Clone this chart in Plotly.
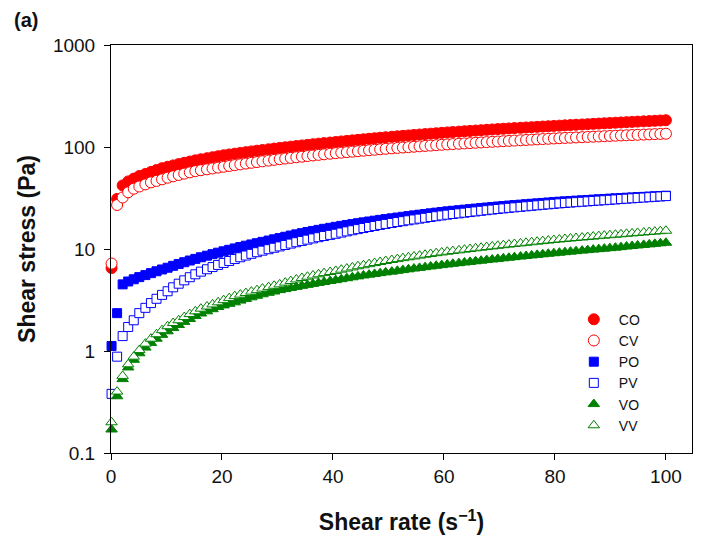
import plotly.graph_objects as go

shear_rate = [0.1, 1.1, 2.1, 3.1, 4.1, 5.1, 6.2, 7.2, 8.2, 9.2,
              10.2, 11.2, 12.2, 13.2, 14.2, 15.2, 16.2, 17.3, 18.3, 19.3,
              20.3, 21.3, 22.3, 23.3, 24.3, 25.3, 26.3, 27.3, 28.4, 29.4,
              30.4, 31.4, 32.4, 33.4, 34.4, 35.4, 36.4, 37.4, 38.4, 39.5,
              40.5, 41.5, 42.5, 43.5, 44.5, 45.5, 46.5, 47.5, 48.5, 49.5,
              50.6, 51.6, 52.6, 53.6, 54.6, 55.6, 56.6, 57.6, 58.6, 59.6,
              60.6, 61.6, 62.7, 63.7, 64.7, 65.7, 66.7, 67.7, 68.7, 69.7,
              70.7, 71.7, 72.7, 73.8, 74.8, 75.8, 76.8, 77.8, 78.8, 79.8,
              80.8, 81.8, 82.8, 83.8, 84.9, 85.9, 86.9, 87.9, 88.9, 89.9,
              90.9, 91.9, 92.9, 93.9, 94.9, 96.0, 97.0, 98.0, 99.0, 100.0]

CO = [6.5, 31, 42, 46, 49, 52, 54.5, 57, 59.5, 62,
      64, 66, 68, 70, 72, 74, 75.8, 77.6, 79.4, 81.2,
      83, 84.5, 86, 87.5, 89, 90.5, 92, 93.5, 95, 96.5,
      98, 99.4, 100.8, 102.2, 103.6, 105, 106.4, 107.8, 109.2, 110.6,
      112, 113.4, 114.8, 116.2, 117.6, 119, 120.4, 121.8, 123.2, 124.6,
      126, 127.3, 128.6, 129.9, 131.2, 132.5, 133.8, 135.1, 136.4, 137.7,
      139, 140.2, 141.4, 142.6, 143.8, 145, 146.2, 147.4, 148.6, 149.8,
      151, 152.1, 153.2, 154.3, 155.4, 156.5, 157.6, 158.7, 159.8, 160.9,
      162, 163.1, 164.2, 165.3, 166.4, 167.5, 168.6, 169.7, 170.8, 171.9,
      173, 174.1, 175.2, 176.3, 177.4, 178.5, 179.6, 180.7, 181.8, 183]

CV = [7.2, 27, 32, 36, 39, 41, 43, 45, 46.5, 48.2,
      50, 51.6, 53.2, 54.8, 56.4, 58, 59.2, 60.4, 61.6, 62.8,
      64, 65.2, 66.4, 67.6, 68.8, 70, 71.2, 72.4, 73.6, 74.8,
      76, 77.1, 78.2, 79.3, 80.4, 81.5, 82.6, 83.7, 84.8, 85.9,
      87, 88, 89, 90, 91, 92, 93, 94, 95, 96,
      97, 97.9, 98.8, 99.7, 100.6, 101.5, 102.4, 103.3, 104.2, 105.1,
      106, 106.8, 107.6, 108.4, 109.2, 110, 110.8, 111.6, 112.4, 113.2,
      114, 114.8, 115.6, 116.4, 117.2, 118, 118.8, 119.6, 120.4, 121.2,
      122, 122.7, 123.4, 124.1, 124.8, 125.5, 126.2, 126.9, 127.6, 128.3,
      129, 129.7, 130.3, 131, 131.7, 132.3, 133, 133.7, 134.3, 135]

PO = [1.12, 2.35, 4.5, 4.8, 5.05, 5.3, 5.55, 5.8, 6.05, 6.3,
      6.55, 6.84, 7.13, 7.42, 7.71, 8.0, 8.3, 8.6, 8.9, 9.2,
      9.5, 9.82, 10.13, 10.45, 10.77, 11.08, 11.4, 11.75, 12.1, 12.45,
      12.8, 13.18, 13.55, 13.93, 14.3, 14.67, 15.03, 15.4, 15.77, 16.13,
      16.5, 16.85, 17.2, 17.55, 17.9, 18.25, 18.6, 18.95, 19.3, 19.65,
      20.0, 20.34, 20.68, 21.02, 21.36, 21.7, 22.04, 22.38, 22.72, 23.06,
      23.4, 23.7, 24.0, 24.3, 24.6, 24.9, 25.2, 25.5, 25.8, 26.1,
      26.4, 26.67, 26.94, 27.21, 27.48, 27.75, 28.02, 28.29, 28.56, 28.83,
      29.1, 29.33, 29.56, 29.79, 30.02, 30.25, 30.48, 30.71, 30.94, 31.17,
      31.4, 31.61, 31.82, 32.03, 32.24, 32.45, 32.66, 32.87, 33.08, 33.3]

PV = [0.38, 0.88, 1.4, 1.72, 2.0, 2.35, 2.65, 2.95, 3.25, 3.55,
      3.85, 4.21, 4.57, 4.93, 5.29, 5.65, 6.0, 6.33, 6.65, 6.98,
      7.3, 7.63, 7.97, 8.3, 8.63, 8.97, 9.3, 9.63, 9.95, 10.28,
      10.6, 10.95, 11.3, 11.65, 12.0, 12.35, 12.7, 13.05, 13.4, 13.75,
      14.1, 14.49, 14.88, 15.27, 15.66, 16.05, 16.44, 16.83, 17.22, 17.61,
      18.0, 18.37, 18.74, 19.11, 19.48, 19.85, 20.22, 20.59, 20.96, 21.33,
      21.7, 22.03, 22.36, 22.69, 23.02, 23.35, 23.68, 24.01, 24.34, 24.67,
      25.0, 25.3, 25.6, 25.9, 26.2, 26.5, 26.8, 27.1, 27.4, 27.7,
      28.0, 28.26, 28.52, 28.78, 29.04, 29.3, 29.56, 29.82, 30.08, 30.34,
      30.6, 30.87, 31.13, 31.4, 31.67, 31.93, 32.2, 32.47, 32.73, 33.0]

VO = [0.17, 0.36, 0.53, 0.69, 0.82, 0.95, 1.08, 1.2, 1.32, 1.44,
      1.56, 1.68, 1.8, 1.93, 2.06, 2.2, 2.33, 2.45, 2.57, 2.7,
      2.8, 2.9, 3.0, 3.12, 3.24, 3.36, 3.48, 3.6, 3.72, 3.83,
      3.95, 4.05, 4.15, 4.25, 4.35, 4.45, 4.55, 4.65, 4.75, 4.85,
      4.95, 5.06, 5.17, 5.28, 5.39, 5.5, 5.6, 5.7, 5.8, 5.9,
      6.0, 6.11, 6.21, 6.32, 6.43, 6.53, 6.64, 6.74, 6.85, 6.95,
      7.05, 7.16, 7.26, 7.37, 7.47, 7.58, 7.68, 7.79, 7.89, 8.0,
      8.1, 8.21, 8.32, 8.43, 8.54, 8.65, 8.76, 8.87, 8.98, 9.09,
      9.2, 9.31, 9.42, 9.53, 9.64, 9.75, 9.86, 9.97, 10.08, 10.19,
      10.3, 10.43, 10.57, 10.7, 10.83, 10.97, 11.1, 11.23, 11.37, 11.5]

VV = [0.2, 0.4, 0.57, 0.74, 0.88, 1.02, 1.18, 1.32, 1.46, 1.6,
      1.75, 1.88, 2.0, 2.15, 2.3, 2.45, 2.6, 2.73, 2.86, 3.0,
      3.15, 3.3, 3.45, 3.57, 3.7, 3.82, 3.95, 4.09, 4.23, 4.36,
      4.5, 4.68, 4.85, 5.03, 5.2, 5.35, 5.5, 5.65, 5.8, 5.95,
      6.1, 6.27, 6.43, 6.6, 6.77, 6.93, 7.1, 7.28, 7.45, 7.63,
      7.8, 7.96, 8.13, 8.29, 8.45, 8.61, 8.78, 8.94, 9.1, 9.25,
      9.4, 9.55, 9.7, 9.85, 10.0, 10.15, 10.3, 10.45, 10.6, 10.75,
      10.9, 11.05, 11.2, 11.35, 11.5, 11.65, 11.8, 11.95, 12.1, 12.25,
      12.4, 12.54, 12.68, 12.82, 12.96, 13.1, 13.24, 13.38, 13.52, 13.66,
      13.8, 13.94, 14.09, 14.23, 14.38, 14.52, 14.67, 14.81, 14.96, 15.1]

series_names = ["CO", "CV", "PO", "PV", "VO", "VV"]
series_values = [CO, CV, PO, PV, VO, VV]

RED = "#FF0000"
BLUE = "#0000FF"
GREEN = "#008000"
styles = {
    "CO": dict(symbol="circle", size=11, color=RED, line=dict(color=RED, width=1)),
    "CV": dict(symbol="circle", size=11, color="white", line=dict(color=RED, width=1)),
    "PO": dict(symbol="square", size=9, color=BLUE, line=dict(color=BLUE, width=1)),
    "PV": dict(symbol="square", size=9, color="white", line=dict(color=BLUE, width=1)),
    "VO": dict(symbol="triangle-up", size=10, color=GREEN, line=dict(color=GREEN, width=1)),
    "VV": dict(symbol="triangle-up", size=10, color="white", line=dict(color=GREEN, width=1)),
}

fig = go.Figure()
for name, vals in zip(series_names, series_values):
    fig.add_trace(go.Scatter(
        x=shear_rate, y=vals, mode="markers", name=name,
        marker=styles[name], cliponaxis=False,
    ))

FONT = "Liberation Sans, Arial, sans-serif"
TXT = "#111111"

# the page body adds an 8 px offset, so the figure is 8 px smaller than the window
fig.update_layout(
    width=696, height=541,
    margin=dict(l=103, r=12, t=37, b=96),
    paper_bgcolor="white", plot_bgcolor="white",
    font=dict(family=FONT, color=TXT, size=15),
    showlegend=True,
    legend=dict(
        x=0.788, y=0.366, xanchor="left", yanchor="top",
        bgcolor="rgba(0,0,0,0)", borderwidth=0,
        font=dict(family=FONT, size=14, color=TXT),
        itemwidth=40, tracegroupgap=0,
    ),
    xaxis=dict(
        range=[0, 104.7], tickmode="array", tickvals=[0, 20, 40, 60, 80, 100],
        ticks="outside", ticklen=6, tickwidth=1, tickcolor="black",
        showline=True, linecolor="black", linewidth=1, mirror=True,
        showgrid=False, zeroline=False, automargin=False,
        tickfont=dict(family=FONT, size=19, color=TXT),
        title=dict(text="<b>Shear rate (s<sup>\u22121</sup>)</b>",
                   font=dict(family=FONT, size=23, color=TXT), standoff=28),
    ),
    yaxis=dict(
        type="log", range=[-1, 3],
        tickmode="array", tickvals=[0.1, 1, 10, 100, 1000],
        ticktext=["0.1", "1", "10", "100", "1000"],
        ticks="outside", ticklen=6, tickwidth=1, tickcolor="black",
        ticklabelstandoff=5,
        showline=True, linecolor="black", linewidth=1, mirror=True,
        showgrid=False, zeroline=False, automargin=False,
        tickfont=dict(family=FONT, size=19, color=TXT),
        title=dict(text="<b>Shear stress (Pa)</b>",
                   font=dict(family=FONT, size=23, color=TXT), standoff=10),
    ),
    annotations=[dict(
        text="<b>(a)</b>", xref="paper", yref="paper",
        x=-0.170, y=1.061, xanchor="left", yanchor="middle", showarrow=False,
        font=dict(family=FONT, size=20, color=TXT),
    )],
)

fig.write_html("out.html")
